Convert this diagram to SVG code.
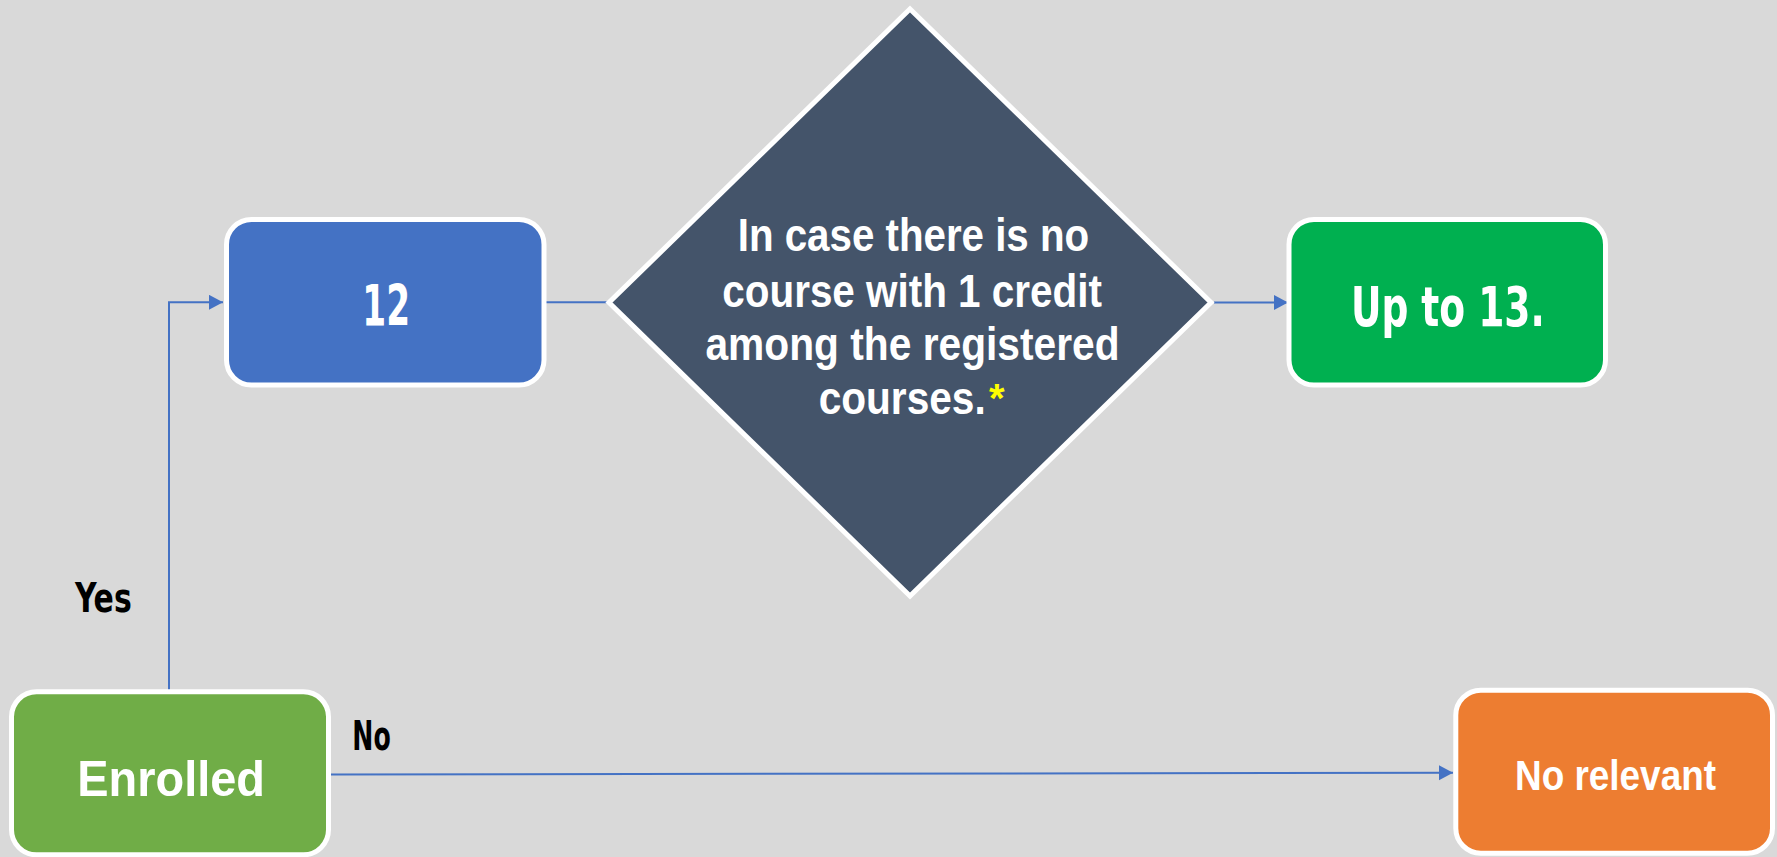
<svg xmlns="http://www.w3.org/2000/svg" width="1777" height="857" viewBox="0 0 1777 857">
<style>
.box{stroke:#FFFFFF;stroke-width:5}
.lbl{font-family:"Liberation Sans",Arial,sans-serif;font-weight:bold;fill:#FFFFFF}
.cond{font-family:"DejaVu Sans Condensed","DejaVu Sans",sans-serif;font-weight:bold}
.conn{fill:none;stroke:#4472C4;stroke-width:2}
</style>
<defs>
<marker id="arr" markerUnits="userSpaceOnUse" markerWidth="15" markerHeight="16" refX="14" refY="7.5" orient="auto">
<path d="M0,0 L14,7.5 L0,15 z" fill="#4472C4"/>
</marker>
</defs>
<rect width="1777" height="857" fill="#D9D9D9"/>
<g id="connectors">
<path class="conn" d="M169,691 V302.3 H223" marker-end="url(#arr)"/>
<path class="conn" d="M544,302.3 H607"/>
<path class="conn" d="M1214,302.5 H1288" marker-end="url(#arr)"/>
<path class="conn" d="M329,774.5 L1453,772.7" marker-end="url(#arr)"/>
<text class="cond" x="75" y="611.7" font-size="41" textLength="56.7" lengthAdjust="spacingAndGlyphs" fill="#000000">Yes</text>
<text class="cond" x="352.3" y="750" font-size="40" textLength="38.4" lengthAdjust="spacingAndGlyphs" fill="#000000">No</text>
</g>
<g id="node-12">
<rect class="box" x="226.5" y="219.5" width="317.5" height="165.5" rx="25" fill="#4472C4"/>
<text class="cond" x="362.3" y="326" font-size="57.6" textLength="47.7" lengthAdjust="spacingAndGlyphs" fill="#FFFFFF">12</text>
</g>
<g id="node-condition">
<polygon class="box" points="910,9 1211,302.5 910,596 609,302.5" fill="#44546A"/>
<text class="lbl" font-size="47">
<tspan x="737.7" y="251" textLength="351.5" lengthAdjust="spacingAndGlyphs">In case there is no</tspan>
<tspan x="722.3" y="306.5" textLength="379.6" lengthAdjust="spacingAndGlyphs">course with 1 credit</tspan>
<tspan x="705.4" y="360" textLength="414.2" lengthAdjust="spacingAndGlyphs">among the registered</tspan>
</text>
<text class="lbl" font-size="47" x="818.7" y="414" textLength="167" lengthAdjust="spacingAndGlyphs">courses.</text>
<text font-family="Liberation Sans, Arial, sans-serif" font-weight="bold" font-size="40" fill="#FFFF00" x="989" y="412">*</text>
</g>
<g id="node-up-to-13">
<rect class="box" x="1289" y="219.5" width="316.5" height="165.5" rx="25" fill="#00B050"/>
<text class="cond" x="1350.9" y="326" font-size="56" textLength="193.9" lengthAdjust="spacingAndGlyphs" fill="#FFFFFF">Up to 13.</text>
</g>
<g id="node-enrolled">
<rect class="box" x="11.5" y="691.8" width="317" height="163" rx="25" fill="#70AD47"/>
<text class="lbl" x="77.3" y="795.7" font-size="50" textLength="187.7" lengthAdjust="spacingAndGlyphs">Enrolled</text>
</g>
<g id="node-no-relevant">
<rect class="box" x="1455.8" y="690.2" width="316.7" height="163" rx="25" fill="#ED7D31"/>
<text class="lbl" x="1515" y="789.6" font-size="42" textLength="201" lengthAdjust="spacingAndGlyphs">No relevant</text>
</g>
</svg>
